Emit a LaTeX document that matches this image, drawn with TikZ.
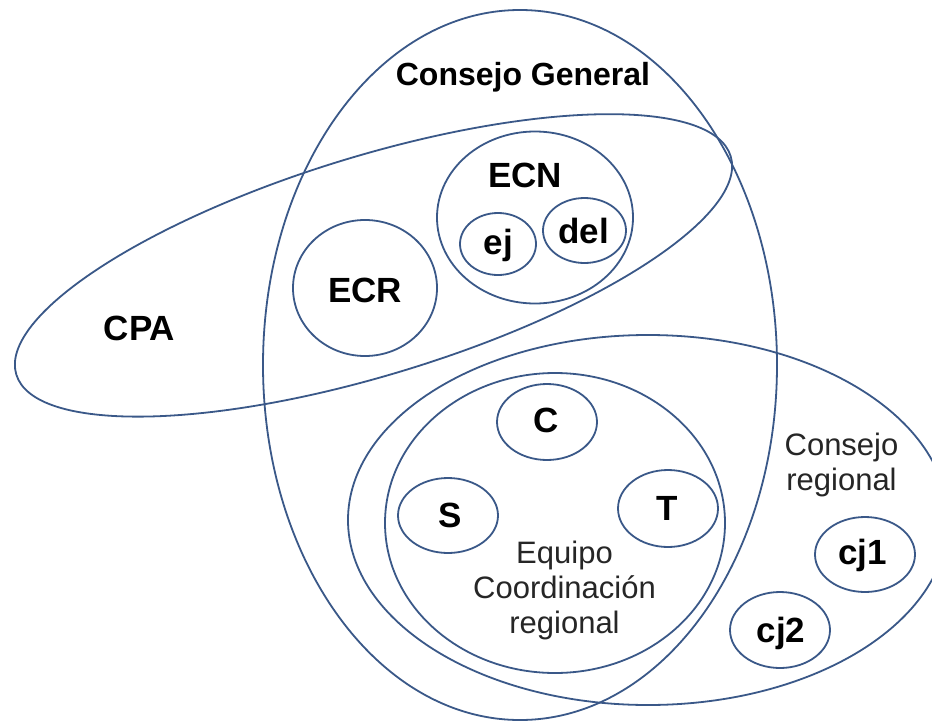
\documentclass[tikz,border=0pt]{standalone}
\usepackage{fontspec}
\setmainfont{Liberation Sans}
\definecolor{lineblue}{RGB}{58,88,136}
\definecolor{txtgray}{RGB}{38,38,38}
\begin{document}
\begin{tikzpicture}[x=1pt,y=-1pt,
  outline/.style={draw=lineblue, line width=1.8pt},
  lbl/.style={font=\fontsize{35}{42}\selectfont\bfseries, text=black, inner sep=0pt, anchor=base},
  title/.style={font=\fontsize{32}{38}\selectfont\bfseries, text=black, inner sep=0pt, anchor=base},
  reg/.style={font=\fontsize{31}{35}\selectfont, text=txtgray, inner sep=0pt, anchor=base}]
\useasboundingbox (0,0) rectangle (932,723);
\clip (0,0) rectangle (932,723);
\fill[white] (0,0) rectangle (932,723);

% large sets
\draw[outline] (520,365) ellipse [x radius=257pt, y radius=355pt];
\draw[outline, rotate around={17:(373.5,265.4)}] (373.5,265.4) ellipse [x radius=373.5pt, y radius=109.4pt];
\draw[outline] (648,520) ellipse [x radius=300pt, y radius=185pt];
\draw[outline] (555,523) ellipse [x radius=170pt, y radius=150pt];

% inner sets
\draw[outline] (535,217.5) ellipse [x radius=98pt, y radius=86pt];
\draw[outline] (498,244) ellipse [x radius=38pt, y radius=31pt];
\draw[outline] (584.5,230.5) ellipse [x radius=41.5pt, y radius=32.5pt];
\draw[outline] (365,288) ellipse [x radius=72pt, y radius=68pt];
\draw[outline] (547,422) ellipse [x radius=50pt, y radius=38pt];
\draw[outline] (448,515.5) ellipse [x radius=50pt, y radius=37.5pt];
\draw[outline] (668,508.5) ellipse [x radius=50pt, y radius=38.5pt];
\draw[outline] (865,554.5) ellipse [x radius=50pt, y radius=37.5pt];
\draw[outline] (780,630) ellipse [x radius=50pt, y radius=38pt];

% labels
\node[title] (cg) at (523,85) {Consejo General};
\node[lbl] (ecn) at (525,187) {ECN};
\node[lbl] (cpa) at (139.5,340) {CPA};
\node[lbl] (ecr) at (365,302) {ECR};
\node[lbl] (ej) at (498.5,254) {ej};
\node[lbl] (del) at (583.5,243) {del};
\node[lbl] (c) at (546.5,432) {C};
\node[lbl] (s) at (450,527) {S};
\node[lbl] (t) at (667.5,520) {T};
\node[lbl] (cj1) at (862.5,564) {cj1};
\node[lbl] (cj2) at (781,642) {cj2};
\node[reg] (cr1) at (841.5,455) {Consejo};
\node[reg] (cr2) at (841.5,490) {regional};
\node[reg] (ecr1) at (564.5,563) {Equipo};
\node[reg] (ecr2) at (564.5,598) {Coordinación};
\node[reg] (ecr3) at (564.5,633) {regional};
\end{tikzpicture}
\end{document}
